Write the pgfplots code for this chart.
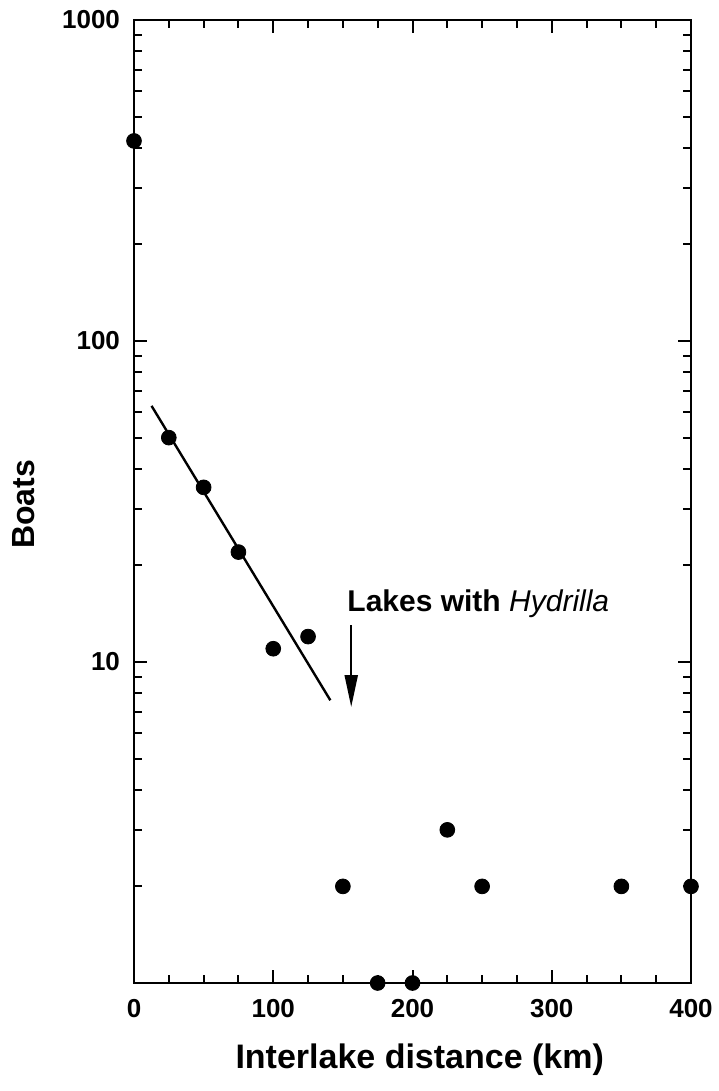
\documentclass[border=0pt]{standalone}
\usepackage{fontspec}
\setmainfont{Liberation Sans}
\usepackage{pgfplots}
\pgfplotsset{compat=1.18}
\usetikzlibrary{arrows.meta}

\begin{document}
\begin{tikzpicture}
  \begin{axis}[
    name=ax,
    scale only axis,
    width=278.5pt, height=481.5pt,
    ymode=log,
    xmin=0, xmax=400, ymin=1, ymax=1000,
    xtick={0,100,200,300,400},
    minor x tick num=3,
    ytick={1,10,100,1000},
    yticklabels={,10,100,1000},
    tick align=inside,
    major tick length=6.5pt, minor tick length=4pt,
    every tick/.style={black, line width=1pt},
    axis line style={line width=1.2pt},
    clip=false,
    /pgf/number format/assume math mode=true,
    tick label style={font=\fontsize{13}{15}\selectfont\bfseries},
    xticklabel style={yshift=-4.5pt},
    yticklabel style={xshift=-3.5pt},
    xlabel={Interlake distance (km)},
    ylabel={Boats},
    xlabel style={font=\fontsize{17}{20}\selectfont\bfseries,
      at={(axis description cs:0.513,-0.080)}, anchor=center},
    ylabel style={font=\fontsize{16}{19}\selectfont\bfseries,
      at={(axis description cs:-0.199,0.497)}, anchor=center},
  ]
  % fitted line
  \addplot[black, line width=1.2pt] coordinates {(12.6,62.8) (141,7.6)};
  % observations
  \addplot[only marks, mark=*, mark size=3.7pt, black]
    coordinates {(0,420) (25,50) (50,35) (75,22) (100,11) (125,12)
                 (150,2) (175,1) (200,1) (225,3) (250,2) (350,2) (400,2)};
  \node[anchor=base west, font=\fontsize{15}{18}\selectfont\bfseries, inner sep=0pt]
    at (axis cs:153,14.4) {Lakes with \textnormal{\itshape Hydrilla}};
  \draw[line width=1.1pt, -{Triangle[length=16pt,width=6.5pt]}]
    (axis cs:156,13.0) -- (axis cs:156,7.24);
  \end{axis}
  \pgfresetboundingbox
  \path[use as bounding box] ([shift={(-67pt,-54pt)}]ax.south west)
    rectangle ([shift={(14pt,10pt)}]ax.north east);
\end{tikzpicture}
\end{document}
